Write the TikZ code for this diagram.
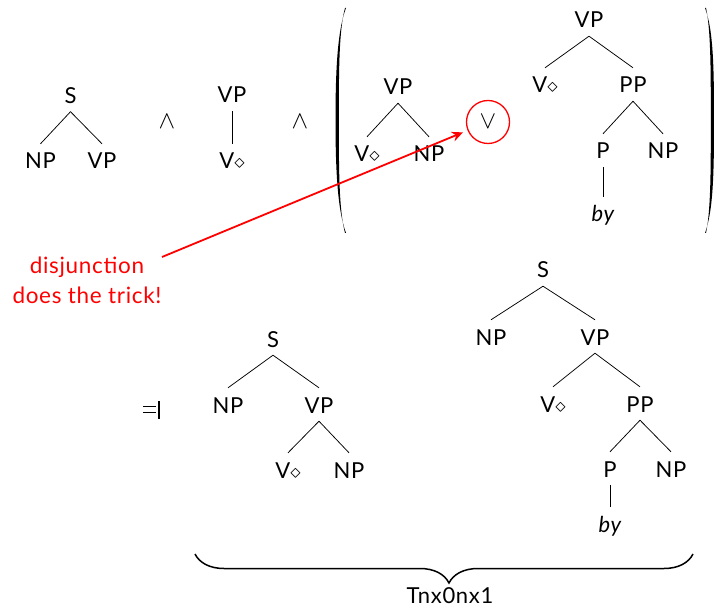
\documentclass[tikz,border=0pt]{standalone}
\usepackage{fontspec}
\setmainfont{Lato}[LetterSpace=3]
\usetikzlibrary{arrows.meta,decorations.pathreplacing}
\newcommand\tedge[2]{\draw[edgeline] ([yshift=-8pt]#1.south) -- ([yshift=10pt]#2.north);}
\newcommand\Vd{V$\diamond$}
\begin{document}
\begin{tikzpicture}[x=1pt,y=-1pt,
  lab/.style={inner sep=0pt, anchor=base, text height=15pt, text depth=0pt, font=\fontsize{22}{26}\selectfont},
  sym/.style={inner sep=0pt, font=\fontsize{24}{26}\selectfont},
  edgeline/.style={line width=0.75pt},
  redlab/.style={inner sep=0pt, anchor=base, text=red, font=\fontsize{22.5}{26}\selectfont},
  paren/.style={fill=black, draw=none}]
\useasboundingbox (0,0) rectangle (714,609);

% tree 1
\node[lab] (t1s) at (70.5,103.5) {S};
\node[lab] (t1np) at (40.5,169) {NP};
\node[lab] (t1vp) at (102,169) {VP};
\tedge{t1s}{t1np}
\tedge{t1s}{t1vp}

\node[sym] (and1) at (167,122) {$\wedge$};

% tree 2
\node[lab] (t2vp) at (232,103) {VP};
\node[lab] (t2v) at (232,169) {\Vd};
\tedge{t2vp}{t2v}

\node[sym] (and2) at (300,122) {$\wedge$};

% parentheses
\path[paren] (346,8) .. controls (337.5,30) and (335.5,70) .. (335.5,120)
  .. controls (335.5,170) and (337.5,210) .. (346,233) -- (345,233)
  .. controls (339,210) and (338.8,170) .. (338.8,120)
  .. controls (338.8,70) and (339,30) .. (345,8) -- cycle;
\path[paren] (705,8) .. controls (713.5,30) and (714,70) .. (714,120)
  .. controls (714,170) and (713.5,210) .. (705,233) -- (706,233)
  .. controls (710.8,210) and (710.8,170) .. (710.8,120)
  .. controls (710.8,70) and (710.8,30) .. (706,8) -- cycle;

% tree 3 (in parens, left)
\node[lab] (t3vp) at (398,95) {VP};
\node[lab] (t3v) at (367,162) {\Vd};
\node[lab] (t3np) at (429,162) {NP};
\tedge{t3vp}{t3v}
\tedge{t3vp}{t3np}

% disjunction circle
\node[sym, draw=red, circle, minimum size=43pt, line width=1.3pt] (circ) at (488,122) {$\vee$};

% tree 4 (in parens, right)
\node[lab] (t4vp) at (589,28) {VP};
\node[lab] (t4v) at (545,93) {\Vd};
\node[lab] (t4pp) at (633,93) {PP};
\node[lab] (t4p) at (603,159) {P};
\node[lab] (t4np) at (663,159) {NP};
\node[lab] (t4by) at (603,222) {\itshape by};
\tedge{t4vp}{t4v}
\tedge{t4vp}{t4pp}
\tedge{t4pp}{t4p}
\tedge{t4pp}{t4np}
\tedge{t4p}{t4by}

% red label and arrow
\node[redlab] (dis1) at (87,274) {disjunction};
\node[redlab] (dis2) at (87,303) {does the trick!};
\coordinate (arrS) at (162,257);
\draw[red, line width=1.8pt, -{Stealth[length=11pt,width=10pt]}, shorten >=5pt] (arrS) -- (circ);

% reverse models symbol
\draw[line width=0.9pt] (143,406.5) -- (156,406.5) (143,412) -- (156,412);
\draw[line width=1.1pt] (159,401) -- (159,419);

% tree 5
\node[lab] (t5s) at (273,347) {S};
\node[lab] (t5np) at (228,413) {NP};
\node[lab] (t5vp) at (319,413) {VP};
\node[lab] (t5v) at (288,478) {\Vd};
\node[lab] (t5np2) at (349,478) {NP};
\tedge{t5s}{t5np}
\tedge{t5s}{t5vp}
\tedge{t5vp}{t5v}
\tedge{t5vp}{t5np2}

% tree 6
\node[lab] (t6s) at (543,278) {S};
\node[lab] (t6np) at (491,345) {NP};
\node[lab] (t6vp) at (595,345) {VP};
\node[lab] (t6v) at (553,412) {\Vd};
\node[lab] (t6pp) at (640,412) {PP};
\node[lab] (t6p) at (610,477) {P};
\node[lab] (t6np2) at (671,477) {NP};
\node[lab] (t6by) at (610,532) {\itshape by};
\tedge{t6s}{t6np}
\tedge{t6s}{t6vp}
\tedge{t6vp}{t6v}
\tedge{t6vp}{t6pp}
\tedge{t6pp}{t6p}
\tedge{t6pp}{t6np2}
\tedge{t6p}{t6by}

% brace
\draw[line width=1.5pt, decorate, decoration={brace, mirror, amplitude=29pt, aspect=0.51}] (195,554) -- (693,554);
\node[lab] (tnx) at (450,603.5) {Tnx0nx1};
\end{tikzpicture}
\end{document}
